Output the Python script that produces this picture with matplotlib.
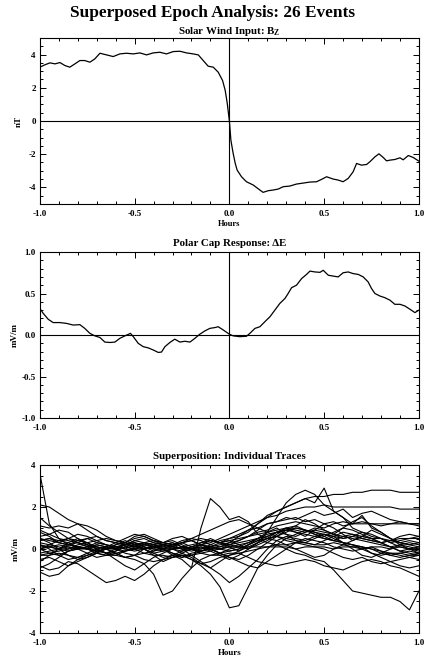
import matplotlib
matplotlib.use("Agg")
import matplotlib.pyplot as plt
import numpy as np
from matplotlib.ticker import MultipleLocator, FormatStrFormatter

plt.rcParams["font.family"] = ["Liberation Serif", "DejaVu Serif"]
plt.rcParams["font.weight"] = "bold"
plt.rcParams["mathtext.fontset"] = "custom"
plt.rcParams["mathtext.rm"] = "Liberation Serif:bold"
plt.rcParams["mathtext.bf"] = "Liberation Serif:bold"
plt.rcParams["mathtext.it"] = "Liberation Serif:bold"

N_EVENTS = 26

# ---- panel 1: mean IMF Bz (nT) ----
bz_hours = [
    -1.000, -0.974, -0.947, -0.920, -0.894, -0.868, -0.842, -0.815, -0.789, -0.763,
    -0.736, -0.710, -0.683, -0.648, -0.613, -0.578, -0.543, -0.507, -0.472, -0.437,
    -0.402, -0.367, -0.332, -0.296, -0.261, -0.226, -0.191, -0.164, -0.138, -0.112,
    -0.085, -0.059, -0.036, -0.022, -0.011, 0.000, 0.008, 0.020, 0.031, 0.041,
    0.064, 0.090, 0.126, 0.161, 0.178, 0.205, 0.231, 0.258, 0.284, 0.319,
    0.354, 0.390, 0.425, 0.460, 0.486, 0.513, 0.548, 0.574, 0.600, 0.627,
    0.653, 0.671, 0.697, 0.724, 0.741, 0.768, 0.789, 0.812, 0.829, 0.847,
    0.873, 0.900, 0.917, 0.944, 0.970, 1.000,
]
bz_mean = [
    3.24, 3.38, 3.50, 3.44, 3.52, 3.34, 3.24, 3.44, 3.64, 3.64,
    3.54, 3.74, 4.08, 3.98, 3.88, 4.04, 4.08, 4.04, 4.10, 3.98,
    4.10, 4.14, 4.04, 4.18, 4.20, 4.10, 4.04, 3.98, 3.64, 3.30,
    3.24, 2.94, 2.44, 1.84, 1.04, 0.00, -1.16, -1.96, -2.56, -2.96,
    -3.36, -3.66, -3.86, -4.16, -4.30, -4.20, -4.16, -4.10, -3.96, -3.92,
    -3.80, -3.74, -3.68, -3.66, -3.52, -3.36, -3.50, -3.56, -3.66, -3.46,
    -3.06, -2.56, -2.66, -2.62, -2.46, -2.16, -1.98, -2.20, -2.40, -2.36,
    -2.32, -2.22, -2.34, -2.08, -2.20, -2.42,
]

# ---- panel 2: mean polar cap response dE (mV/m) ----
de_hours = [
    -1.000, -0.982, -0.956, -0.930, -0.894, -0.859, -0.824, -0.789, -0.763, -0.736,
    -0.710, -0.683, -0.657, -0.630, -0.604, -0.578, -0.551, -0.522, -0.507, -0.481,
    -0.455, -0.428, -0.402, -0.375, -0.358, -0.340, -0.314, -0.288, -0.261, -0.235,
    -0.208, -0.182, -0.156, -0.129, -0.103, -0.076, -0.059, -0.032, 0.000, 0.020,
    0.055, 0.090, 0.108, 0.135, 0.161, 0.187, 0.214, 0.240, 0.266, 0.293,
    0.310, 0.328, 0.354, 0.381, 0.407, 0.425, 0.451, 0.478, 0.495, 0.522,
    0.548, 0.574, 0.600, 0.627, 0.653, 0.680, 0.706, 0.732, 0.750, 0.768,
    0.794, 0.820, 0.847, 0.873, 0.900, 0.926, 0.953, 0.979, 1.000,
]
de_mean = [
    0.32, 0.26, 0.19, 0.15, 0.15, 0.14, 0.12, 0.125, 0.08, 0.02,
    -0.01, -0.03, -0.085, -0.09, -0.085, -0.04, -0.01, 0.02, -0.02, -0.10,
    -0.14, -0.155, -0.18, -0.21, -0.205, -0.14, -0.09, -0.05, -0.085, -0.075,
    -0.085, -0.04, 0.01, 0.05, 0.08, 0.09, 0.10, 0.06, 0.01, -0.01,
    -0.02, -0.015, 0.02, 0.08, 0.10, 0.16, 0.22, 0.30, 0.38, 0.44,
    0.50, 0.57, 0.60, 0.68, 0.73, 0.77, 0.76, 0.755, 0.78, 0.72,
    0.71, 0.70, 0.75, 0.76, 0.74, 0.73, 0.70, 0.64, 0.56, 0.50,
    0.47, 0.45, 0.42, 0.37, 0.37, 0.35, 0.31, 0.27, 0.30,
]

# ---- panel 3: individual event traces (mV/m), sampled every 0.05 h ----
trace_hours = np.linspace(-1.0, 1.0, 41)
traces = [
    [3.6, 1.2, 0.5, 0.2, 0.1, 0.0, -0.1, 0.0, 0.1, 0.0,
     -0.1, 0.0, 0.1, 0.2, 0.1, 0.0, 0.1, 0.2, 0.1, 0.0,
     0.1, 0.2, 0.3, 0.5, 0.6, 0.8, 0.9, 1.0, 0.9, 0.8,
     0.7, 0.6, 0.5, 0.6, 0.5, 0.4, 0.3, 0.4, 0.3, 0.2,
     0.3],
    [2.1, 2.0, 1.7, 1.4, 1.2, 0.9, 0.6, 0.4, 0.3, 0.2,
     0.1, 0.2, 0.3, 0.2, 0.1, 0.0, -0.1, 0.0, 0.1, 0.2,
     0.3, 0.4, 0.6, 0.9, 1.2, 1.3, 1.4, 1.5, 1.3, 1.4,
     1.2, 1.3, 1.1, 1.2, 1.3, 1.2, 1.2, 1.2, 1.3, 1.2,
     1.2],
    [0.3, 0.2, 0.1, 0.0, 0.2, 0.3, 0.1, 0.0, -0.2, -0.1,
     0.0, 0.2, 0.1, 0.0, -0.3, -0.5, -0.9, 1.0, 2.4, 2.0,
     1.4, 1.55, 1.3, 0.7, 0.5, 0.6, 0.8, 1.0, 0.9, 0.7,
     0.5, 0.4, 0.3, 0.2, 0.1, 0.0, -0.2, -0.3, -0.4, -0.3,
     -0.2],
    [0.5, 0.4, 0.3, 0.2, 0.3, 0.2, 0.1, 0.0, 0.1, 0.2,
     0.3, 0.2, 0.1, 0.0, -0.2, -0.3, -0.5, -0.8, -1.2, -1.8,
     -2.8, -2.7, -1.8, -0.9, -0.3, 0.2, 0.5, 0.7, 0.9, 0.8,
     0.6, 0.4, 0.3, 0.2, 0.0, -0.2, -0.3, -0.2, -0.3, -0.4,
     -0.3],
    [0.0, -0.2, -0.3, -0.1, 0.0, -0.2, -0.4, -0.3, -0.2, -0.4,
     -0.5, -0.7, -1.2, -2.2, -2.0, -1.4, -0.9, -0.5, -0.3, -0.2,
     0.0, 0.1, 0.3, 0.5, 0.7, 0.8, 0.9, 0.8, 0.7, 0.6,
     0.5, 0.4, 0.6, 0.5, 0.4, 0.3, 0.2, 0.1, 0.2, 0.1,
     0.0],
    [0.2, 0.1, 0.0, -0.1, 0.0, 0.1, 0.2, 0.1, 0.0, -0.1,
     0.0, 0.1, 0.0, -0.1, 0.0, 0.1, 0.0, -0.1, 0.0, 0.1,
     0.2, 0.3, 0.4, 0.5, 0.3, 0.2, 0.0, -0.2, -0.3, -0.5,
     -0.6, -1.0, -1.5, -2.0, -2.1, -2.2, -2.3, -2.3, -2.5, -2.9,
     -2.0],
    [0.4, 0.5, 0.3, 0.2, 0.4, 0.5, 0.3, 0.2, 0.1, 0.2,
     0.3, 0.1, 0.0, 0.2, 0.3, 0.1, 0.2, 0.3, 0.4, 0.3,
     0.5, 0.6, 0.8, 1.2, 1.6, 1.8, 2.0, 2.2, 2.4, 2.5,
     2.5, 2.6, 2.6, 2.7, 2.7, 2.8, 2.8, 2.8, 2.7, 2.7,
     2.7],
    [0.0, 0.1, 0.2, 0.1, 0.0, 0.1, 0.3, 0.2, 0.1, 0.0,
     0.2, 0.3, 0.2, 0.1, 0.2, 0.3, 0.1, 0.0, 0.2, 0.4,
     0.5, 0.7, 0.9, 1.2, 1.5, 1.8, 2.0, 2.2, 2.4, 2.2,
     2.9, 1.8, 1.5, 1.2, 1.6, 1.0, 0.8, 0.5, 0.3, 0.2,
     0.1],
    [-0.2, -0.1, 0.0, 0.2, 0.1, 0.0, -0.1, 0.0, 0.2, 0.3,
     0.1, 0.0, -0.2, -0.1, 0.0, 0.1, 0.0, -0.2, -0.1, 0.0,
     0.2, 0.1, 0.0, 0.3, 0.8, 1.5, 2.2, 2.6, 2.8, 2.6,
     2.1, 1.8, 1.5, 1.0, 0.8, 0.6, 0.5, 0.3, 0.1, 0.0,
     -0.1],
    [0.6, 0.7, 0.5, 0.4, 0.3, 0.5, 0.6, 0.4, 0.3, 0.2,
     0.4, 0.5, 0.3, 0.2, 0.1, 0.3, 0.4, 0.2, 0.3, 0.5,
     0.7, 0.9, 1.1, 1.3, 1.5, 1.6, 1.8, 1.9, 2.0, 2.0,
     2.1, 2.0, 2.0, 2.0, 2.0, 2.0, 2.0, 2.0, 1.9, 1.9,
     1.9],
    [1.1, 1.0, 1.1, 1.0, 1.2, 1.1, 0.9, 0.6, 0.4, 0.3,
     0.5, 0.6, 0.4, 0.2, 0.3, 0.1, 0.0, 0.2, 0.4, 0.3,
     0.2, 0.4, 0.6, 0.8, 0.9, 1.1, 1.2, 1.3, 1.2, 1.1,
     1.0, 1.2, 1.3, 1.2, 1.2, 1.2, 1.1, 1.2, 1.2, 1.2,
     1.1],
    [-0.8, -1.0, -0.9, -0.6, -0.7, -1.0, -1.3, -1.6, -1.5, -1.3,
     -1.5, -1.2, -0.8, -0.5, -0.3, -0.4, -0.2, -0.1, 0.0, -0.2,
     -0.1, 0.0, 0.2, 0.4, 0.5, 0.6, 0.4, 0.3, 0.2, 0.1,
     0.0, -0.2, -0.4, -0.5, -0.4, -0.6, -0.7, -0.6, -0.5, -0.4,
     -0.5],
    [-1.1, -1.3, -1.2, -0.8, -0.5, -0.3, -0.1, 0.0, -0.2, -0.4,
     -0.3, 0.0, 0.2, 0.3, 0.2, 0.0, -0.3, -0.6, -0.9, -1.2,
     -1.6, -1.3, -0.9, -0.5, 0.0, 0.4, 0.6, 0.5, 0.4, 0.6,
     0.7, 0.5, 0.3, 0.2, 0.1, -0.2, -0.4, -0.6, -0.8, -0.9,
     -0.8],
    [0.5, 0.3, 0.0, -0.3, -0.5, -0.4, -0.2, 0.1, 0.3, 0.5,
     0.7, 0.6, 0.4, 0.3, 0.5, 0.6, 0.4, 0.2, 0.0, -0.2,
     -0.4, -0.5, -0.3, 0.0, 0.3, 0.6, 0.9, 1.1, 1.4, 1.2,
     0.9, 0.7, 1.0, 1.3, 1.5, 1.1, 0.8, 0.5, 0.2, 0.0,
     -0.2],
    [-0.3, -0.2, -0.1, 0.0, 0.1, 0.0, -0.2, -0.3, -0.1, 0.1,
     0.2, 0.0, -0.3, -0.6, -0.4, -0.2, 0.0, 0.1, -0.1, -0.3,
     -0.5, -0.3, 0.0, 0.3, 0.5, 0.8, 1.0, 1.1, 0.9, 0.7,
     0.6, 0.8, 1.0, 0.9, 0.7, 0.5, 0.3, 0.1, -0.1, -0.2,
     -0.3],
    [0.2, 0.0, -0.3, -0.5, -0.4, -0.2, 0.0, 0.1, 0.0, -0.2,
     -0.3, -0.5, -0.6, -0.5, -0.4, -0.3, -0.5, -0.7, -0.6, -0.4,
     -0.3, -0.2, -0.4, -0.6, -0.7, -0.8, -0.7, -0.6, -0.5, -0.6,
     -0.8, -0.9, -1.0, -0.8, -0.6, -0.5, -0.6, -0.8, -0.9, -1.1,
     -1.3],
    [0.1, 0.1, 0.0, 0.1, 0.0, 0.0, 0.1, 0.0, 0.0, 0.1,
     0.0, 0.0, 0.1, 0.0, 0.0, 0.1, 0.0, 0.1, 0.0, 0.0,
     0.1, 0.1, 0.1, 0.1, 0.1, 0.1, 0.1, 0.0, 0.1, 0.1,
     0.1, 0.0, 0.1, 0.1, 0.0, 0.1, 0.1, 0.0, 0.1, 0.0,
     0.0],
    [-0.3, -0.3, -0.2, -0.3, -0.4, -0.3, -0.2, -0.3, -0.3, -0.4,
     -0.3, -0.2, -0.3, -0.3, -0.4, -0.3, -0.3, -0.2, -0.3, -0.3,
     -0.2, -0.2, -0.1, 0.0, 0.1, 0.2, 0.2, 0.3, 0.3, 0.2,
     0.2, 0.3, 0.2, 0.1, 0.1, 0.0, -0.1, -0.2, -0.2, -0.3,
     -0.3],
    [0.4, 0.5, 0.4, 0.5, 0.4, 0.3, 0.4, 0.5, 0.4, 0.3,
     0.2, 0.3, 0.4, 0.3, 0.2, 0.3, 0.4, 0.5, 0.4, 0.3,
     0.4, 0.5, 0.6, 0.7, 0.8, 0.9, 1.0, 0.9, 0.8, 0.9,
     0.8, 0.7, 0.6, 0.7, 0.6, 0.5, 0.5, 0.4, 0.5, 0.5,
     0.5],
    [-0.5, -0.4, -0.6, -0.8, -0.6, -0.4, -0.2, 0.0, 0.2, 0.4,
     0.2, 0.0, -0.2, -0.4, -0.3, -0.1, 0.1, 0.3, 0.5, 0.3,
     0.1, -0.1, 0.2, 0.5, 0.8, 1.0, 0.7, 0.4, 0.3, 0.5,
     0.7, 0.6, 0.3, 0.0, -0.3, -0.4, -0.2, 0.0, 0.2, 0.3,
     0.2],
    [0.0, 0.2, 0.4, 0.3, 0.1, 0.0, 0.2, 0.1, 0.0, 0.2,
     0.4, 0.3, 0.1, 0.0, 0.1, 0.3, 0.5, 0.4, 0.2, 0.1,
     0.3, 0.6, 0.9, 1.0, 1.2, 1.3, 1.5, 1.4, 1.6, 1.8,
     1.6, 1.7, 1.9, 1.5, 1.7, 1.8, 1.6, 1.4, 1.3, 1.2,
     1.2],
    [0.8, 0.6, 0.3, 0.5, 0.7, 0.6, 0.4, 0.2, 0.0, 0.2,
     0.3, 0.1, -0.1, 0.0, 0.2, 0.4, 0.5, 0.7, 0.9, 1.1,
     1.3, 1.4, 1.2, 1.0, 0.8, 0.6, 0.5, 0.4, 0.3, 0.2,
     0.4, 0.6, 0.8, 0.7, 0.5, 0.4, 0.3, 0.4, 0.6, 0.7,
     0.6],
    [1.5, 1.1, 0.8, 0.5, 0.3, 0.1, -0.1, -0.2, 0.0, 0.3,
     0.6, 0.7, 0.5, 0.3, 0.4, 0.2, 0.0, -0.1, 0.1, 0.3,
     0.4, 0.2, 0.0, 0.2, 0.4, 0.7, 1.0, 0.8, 0.6, 0.9,
     1.2, 1.0, 0.7, 0.4, 0.6, 0.9, 0.7, 0.5, 0.3, 0.4,
     0.3],
    [-0.6, -0.3, 0.0, 0.3, 0.5, 0.3, 0.0, -0.2, -0.5, -0.8,
     -1.0, -0.7, -0.4, -0.2, 0.0, -0.2, -0.4, -0.7, -0.9, -0.6,
     -0.3, -0.1, 0.1, 0.3, 0.5, 0.4, 0.2, 0.0, -0.2, -0.4,
     -0.3, 0.0, 0.2, 0.4, 0.6, 0.5, 0.3, 0.1, -0.1, 0.0,
     0.1],
    [0.9, 0.7, 0.9, 0.8, 0.5, 0.2, 0.0, -0.2, -0.1, 0.1,
     0.0, -0.2, -0.1, 0.1, 0.0, -0.1, 0.0, 0.2, 0.1, 0.0,
     -0.1, 0.0, 0.2, 0.4, 0.6, 0.8, 0.7, 0.6, 0.8, 1.0,
     0.9, 0.7, 0.5, 0.6, 0.8, 0.7, 0.5, 0.3, 0.4, 0.5,
     0.6],
    [-0.9, -0.7, -0.4, -0.1, 0.1, 0.2, 0.0, -0.2, -0.3, -0.1,
     0.1, 0.3, 0.2, 0.0, -0.2, -0.4, -0.3, -0.1, 0.0, -0.2,
     -0.4, -0.6, -0.8, -0.9, -0.6, -0.3, 0.0, 0.3, 0.5, 0.4,
     0.3, 0.1, 0.0, -0.1, 0.0, 0.1, -0.1, -0.3, -0.2, -0.1,
     -0.2],
]


def style_axis(ax, ylim, ymajor, yminor, yfmt):
    ax.set_xlim(-1.0, 1.0)
    ax.set_ylim(*ylim)
    ax.xaxis.set_major_locator(MultipleLocator(0.5))
    ax.xaxis.set_minor_locator(MultipleLocator(0.1))
    ax.yaxis.set_major_locator(MultipleLocator(ymajor))
    ax.yaxis.set_minor_locator(MultipleLocator(yminor))
    ax.xaxis.set_major_formatter(FormatStrFormatter("%.1f"))
    ax.yaxis.set_major_formatter(FormatStrFormatter(yfmt))
    ax.tick_params(which="both", direction="in", top=True, right=True,
                   labelsize=6.5, width=0.7)
    ax.tick_params(axis="x", which="both", pad=4.5)
    ax.tick_params(axis="y", which="both", pad=3)
    ax.tick_params(which="major", length=4.5)
    ax.tick_params(which="minor", length=2.2)
    for sp in ax.spines.values():
        sp.set_linewidth(0.8)
    for lab in ax.get_xticklabels() + ax.get_yticklabels():
        lab.set_fontweight("bold")


fig = plt.figure(figsize=(4.24, 6.58), dpi=100)
fig.patch.set_facecolor("white")

ax1 = fig.add_axes([0.094, 0.690, 0.894, 0.2523])
ax2 = fig.add_axes([0.094, 0.3647, 0.894, 0.2523])
ax3 = fig.add_axes([0.094, 0.038, 0.894, 0.2553])

fig.text(0.5, 0.981, f"Superposed Epoch Analysis: {N_EVENTS} Events",
         ha="center", va="center", fontsize=12.4, fontweight="bold")

# panel 1
ax1.plot(bz_hours, bz_mean, color="black", lw=0.9)
ax1.axhline(0, color="black", lw=0.8)
ax1.axvline(0, color="black", lw=0.8)
style_axis(ax1, (-5, 5), 2, 0.5, "%d")
ax1.set_title(r"Solar Wind Input: B$_{\mathrm{Z}}$", fontsize=7.8, fontweight="bold", pad=2)
ax1.set_ylabel("nT", fontsize=6.5, fontweight="bold", labelpad=4)
ax1.set_xlabel("Hours", fontsize=6, fontweight="bold", labelpad=1)

# panel 2
ax2.plot(de_hours, de_mean, color="black", lw=0.9)
ax2.axhline(0, color="black", lw=0.8)
ax2.axvline(0, color="black", lw=0.8)
style_axis(ax2, (-1, 1), 0.5, 0.1, "%.1f")
ax2.set_title("Polar Cap Response: \u0394E", fontsize=7.8, fontweight="bold", pad=4)
ax2.set_ylabel("mV/m", fontsize=6.5, fontweight="bold", labelpad=2)

# panel 3
for tr in traces:
    ax3.plot(trace_hours, tr, color="black", lw=0.8)
style_axis(ax3, (-4, 4), 2, 0.5, "%d")
ax3.set_title("Superposition: Individual Traces", fontsize=7.8, fontweight="bold", pad=4)
ax3.set_ylabel("mV/m", fontsize=6.5, fontweight="bold", labelpad=6)
ax3.set_xlabel("Hours", fontsize=6.5, fontweight="bold", labelpad=1)

fig.savefig("out.png", dpi=100, facecolor="white")
plt.close(fig)
